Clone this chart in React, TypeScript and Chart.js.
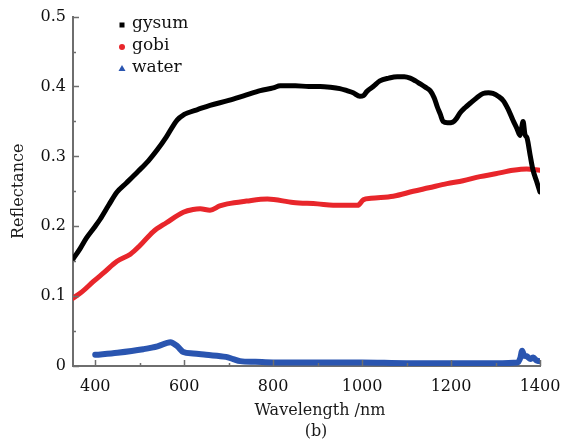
import React, { useEffect, useRef } from "react";
import { Chart, registerables } from "chart.js";

Chart.register(...registerables);

const gysumX = [350,366,380,400,411,430,449,470,494,520,539,560,584,600,607,630,658,700,740,771,800,816,850,880,906,928,950,966,980,995,1003,1011,1025,1040,1060,1079,1095,1108,1120,1130,1142,1153,1162,1169,1176,1182,1192,1204,1212,1220,1232,1243,1258,1272,1284,1294,1306,1317,1328,1339,1348,1355,1358,1362,1366,1371,1378,1384,1392,1400];
const gysumY = [0.153,0.168,0.183,0.200,0.210,0.230,0.249,0.262,0.277,0.294,0.309,0.328,0.352,0.360,0.362,0.367,0.373,0.380,0.388,0.394,0.398,0.401,0.401,0.400,0.400,0.399,0.397,0.394,0.391,0.386,0.387,0.393,0.400,0.408,0.412,0.414,0.414,0.412,0.408,0.404,0.399,0.394,0.384,0.371,0.360,0.350,0.348,0.349,0.354,0.362,0.370,0.376,0.384,0.390,0.391,0.390,0.386,0.380,0.368,0.352,0.340,0.330,0.338,0.350,0.332,0.326,0.301,0.281,0.265,0.249];

const gobiX = [350,370,396,420,449,479,500,530,560,598,620,636,658,680,697,740,787,845,900,935,973,990,1003,1020,1070,1115,1150,1191,1227,1265,1300,1339,1370,1400];
const gobiY = [0.097,0.106,0.121,0.134,0.150,0.160,0.172,0.192,0.205,0.220,0.224,0.225,0.223,0.229,0.232,0.236,0.239,0.234,0.232,0.230,0.230,0.230,0.238,0.240,0.243,0.250,0.255,0.261,0.265,0.271,0.275,0.280,0.282,0.280];

const waterX = [400,450,508,540,569,585,598,620,649,694,710,726,760,800,900,1000,1100,1200,1300,1350,1356,1360,1364,1370,1378,1385,1392,1398];
const waterY = [0.016,0.019,0.024,0.028,0.034,0.028,0.020,0.018,0.016,0.013,0.010,0.007,0.006,0.005,0.005,0.005,0.004,0.004,0.004,0.005,0.012,0.022,0.015,0.014,0.010,0.012,0.008,0.007];

const seriesNames = ["gysum", "gobi", "water"];
const seriesColors = ["#000000", "#e8262b", "#2a55b0"];
const xTicks = [400, 600, 800, 1000, 1200, 1400];
const xMinor = [500, 700, 900, 1100, 1300];
const yTicks = [0, 0.1, 0.2, 0.3, 0.4, 0.5];
const yMinor = [0.05, 0.15, 0.25, 0.35, 0.45];
const xTitle = "Wavelength /nm";
const yTitle = "Reflectance";
const subLabel = "(b)";

const FONT = "'DejaVu Serif', serif";

const zip = (xs: number[], ys: number[]) => xs.map((x, i) => ({ x, y: ys[i] }));

const decorPlugin = {
  id: "decor",
  afterDraw(chart: any) {
    const ctx = chart.ctx;
    const xs = chart.scales.x;
    const ys = chart.scales.y;
    const area = chart.chartArea;
    ctx.save();
    ctx.strokeStyle = "#6e6e6e";
    ctx.lineWidth = 1.5;
    xTicks.forEach((v) => {
      const px = Math.round(xs.getPixelForValue(v)) + 0.5;
      ctx.beginPath();
      ctx.moveTo(px, area.bottom);
      ctx.lineTo(px, area.bottom - 6);
      ctx.stroke();
    });
    xMinor.forEach((v) => {
      const px = Math.round(xs.getPixelForValue(v)) + 0.5;
      ctx.beginPath();
      ctx.moveTo(px, area.bottom);
      ctx.lineTo(px, area.bottom - 3);
      ctx.stroke();
    });
    yTicks.forEach((v) => {
      const py = Math.round(ys.getPixelForValue(v)) + 0.5;
      ctx.beginPath();
      ctx.moveTo(area.left, py);
      ctx.lineTo(area.left + 6, py);
      ctx.stroke();
    });
    yMinor.forEach((v) => {
      const py = Math.round(ys.getPixelForValue(v)) + 0.5;
      ctx.beginPath();
      ctx.moveTo(area.left, py);
      ctx.lineTo(area.left + 3, py);
      ctx.stroke();
    });

    ctx.fillStyle = "#1a1a1a";
    ctx.font = `16px ${FONT}`;
    ctx.textAlign = "center";
    ctx.textBaseline = "middle";
    ctx.fillText(xTitle, 320, 411);
    ctx.fillText(subLabel, 316, 432);
    ctx.save();
    ctx.translate(19, (area.top + area.bottom) / 2);
    ctx.rotate(-Math.PI / 2);
    ctx.fillText(yTitle, 0, 0);
    ctx.restore();

    const lx = 122;
    const ly = [25, 47, 69];
    ctx.font = `17px ${FONT}`;
    ctx.textAlign = "left";
    seriesNames.forEach((name, i) => {
      const y = ly[i];
      ctx.fillStyle = seriesColors[i];
      if (i === 0) {
        ctx.fillRect(lx - 2.5, y - 2.5, 5, 5);
      } else if (i === 1) {
        ctx.beginPath();
        ctx.arc(lx, y, 3, 0, Math.PI * 2);
        ctx.fill();
      } else {
        ctx.beginPath();
        ctx.moveTo(lx, y - 4);
        ctx.lineTo(lx + 3.5, y + 2);
        ctx.lineTo(lx - 3.5, y + 2);
        ctx.closePath();
        ctx.fill();
      }
      ctx.fillStyle = "#111";
      ctx.fillText(name, lx + 10, y - 1);
    });
    ctx.restore();
  },
};

export default function App() {
  const ref = useRef<HTMLCanvasElement | null>(null);
  useEffect(() => {
    if (!ref.current) return;
    const xsData = [gysumX, gobiX, waterX];
    const ysData = [gysumY, gobiY, waterY];
    const widths = [5, 5, 6];
    const chart = new Chart(ref.current, {
      type: "line",
      data: {
        datasets: seriesNames.map((name, i) => ({
          label: name,
          data: zip(xsData[i], ysData[i]),
          borderColor: seriesColors[i],
          backgroundColor: seriesColors[i],
          borderWidth: widths[i],
          pointRadius: 0,
          cubicInterpolationMode: "monotone" as const,
          borderCapStyle: "round" as const,
          borderJoinStyle: "round" as const,
        })),
      },
      options: {
        animation: false,
        responsive: true,
        maintainAspectRatio: false,
        layout: { padding: { top: 12, right: 40, left: 0, bottom: 0 } },
        plugins: { legend: { display: false }, tooltip: { enabled: false } },
        scales: {
          x: {
            type: "linear",
            min: 350,
            max: 1400,
            afterFit: (s: any) => { s.height = 81; },
            afterBuildTicks: (s: any) => { s.ticks = xTicks.map((v) => ({ value: v })); },
            grid: { display: false, drawTicks: false },
            border: { display: true, color: "#6e6e6e", width: 2 },
            ticks: {
              padding: 11,
              color: "#111",
              font: { family: FONT, size: 16 },
              maxRotation: 0,
              autoSkip: false,
              callback: (v: any) => String(v),
            },
          },
          y: {
            type: "linear",
            min: 0,
            max: 0.5,
            afterFit: (s: any) => { s.width = 73; },
            afterBuildTicks: (s: any) => { s.ticks = yTicks.map((v) => ({ value: v })); },
            grid: { display: false, drawTicks: false },
            border: { display: true, color: "#6e6e6e", width: 2 },
            ticks: {
              padding: 7,
              color: "#111",
              font: { family: FONT, size: 16 },
              autoSkip: false,
              callback: (v: any) => (v === 0 ? "0" : String(Math.round(v * 10) / 10)),
            },
          },
        },
      },
      plugins: [decorPlugin],
    });
    return () => chart.destroy();
  }, []);
  return (
    <div style={{ position: "fixed", left: 0, top: 0, width: 580, height: 447, background: "#fff" }}>
      <canvas ref={ref} />
    </div>
  );
}
